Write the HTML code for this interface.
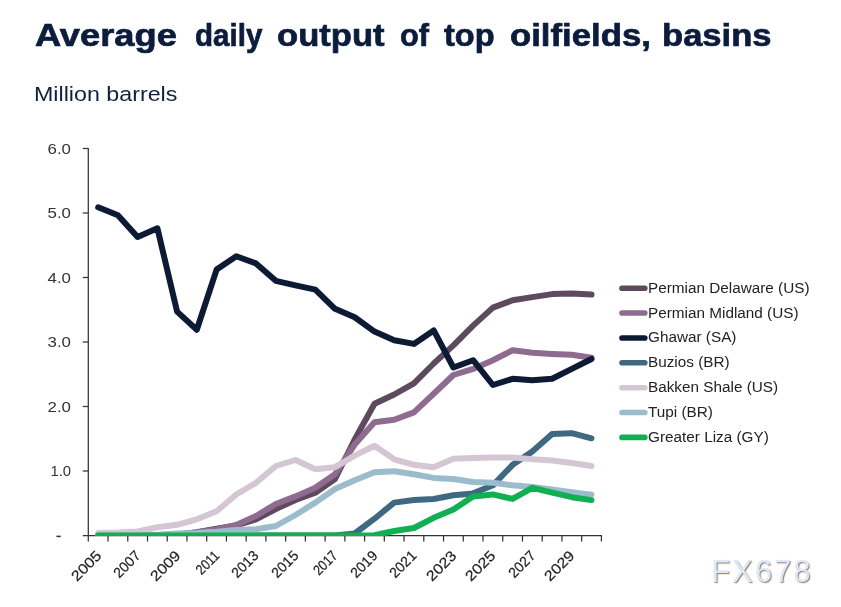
<!DOCTYPE html>
<html><head><meta charset="utf-8"><title>Average daily output of top oilfields, basins</title>
<style>
html,body{margin:0;padding:0;background:#fff;}
body{width:841px;height:607px;position:relative;overflow:hidden;font-family:"Liberation Sans",sans-serif;}
.t{position:absolute;white-space:nowrap;line-height:1;}
.tw{top:19.7px;font-size:31.5px;font-weight:bold;color:#0b1c3d;transform-origin:0 0;-webkit-text-stroke:0.7px #0b1c3d;}
#sub{left:33.5px;top:83.5px;font-size:20.5px;color:#12213f;transform-origin:0 0;transform:scaleX(1.134);}
.yl{font-size:14.4px;color:#333;text-align:right;width:40px;left:31.1px;transform-origin:100% 50%;transform:scaleX(1.17);}
.xl{font-size:14.4px;color:#222;-webkit-text-stroke:0.2px #222;transform-origin:100% 50%;transform:rotate(-45deg) scaleX(1.12);}
.lg{font-size:14px;color:#222;left:647.9px;transform-origin:0 0;transform:scaleX(1.093);}
#wm{left:711.3px;top:555.8px;font-size:30.6px;color:#dbe9fa;letter-spacing:2.3px;text-shadow:1px 1px 1.2px rgba(140,112,88,.95);}
#wrap{position:absolute;left:0;top:0;width:841px;height:607px;will-change:transform;}
</style></head><body><div id="wrap">

<svg width="841" height="607" viewBox="0 0 841 607" style="position:absolute;left:0;top:0">
<defs><clipPath id="plot"><rect x="80" y="100" width="560" height="436"/></clipPath></defs>
<g stroke="#333333" stroke-width="1.25" fill="none">
<path d="M88.3 147.9V541.5"/>
<path d="M82.8 535.5H602.01"/>
<path d="M82.8 148.50H88.3"/>
<path d="M82.8 213.00H88.3"/>
<path d="M82.8 277.50H88.3"/>
<path d="M82.8 342.00H88.3"/>
<path d="M82.8 406.50H88.3"/>
<path d="M82.8 471.00H88.3"/>
<path d="M108.03 535.5V541.5"/>
<path d="M127.77 535.5V541.5"/>
<path d="M147.50 535.5V541.5"/>
<path d="M167.24 535.5V541.5"/>
<path d="M186.97 535.5V541.5"/>
<path d="M206.71 535.5V541.5"/>
<path d="M226.44 535.5V541.5"/>
<path d="M246.18 535.5V541.5"/>
<path d="M265.92 535.5V541.5"/>
<path d="M285.65 535.5V541.5"/>
<path d="M305.38 535.5V541.5"/>
<path d="M325.12 535.5V541.5"/>
<path d="M344.86 535.5V541.5"/>
<path d="M364.59 535.5V541.5"/>
<path d="M384.32 535.5V541.5"/>
<path d="M404.06 535.5V541.5"/>
<path d="M423.80 535.5V541.5"/>
<path d="M443.53 535.5V541.5"/>
<path d="M463.26 535.5V541.5"/>
<path d="M483.00 535.5V541.5"/>
<path d="M502.74 535.5V541.5"/>
<path d="M522.47 535.5V541.5"/>
<path d="M542.20 535.5V541.5"/>
<path d="M561.94 535.5V541.5"/>
<path d="M581.67 535.5V541.5"/>
<path d="M601.41 535.5V541.5"/>
</g>
<path d="M56.4 536.4H60.8" stroke="#333" stroke-width="1.5"/>
<g clip-path="url(#plot)" fill="none" stroke-linecap="round" stroke-linejoin="round">
<polyline points="98.2,535.3 117.9,535.3 137.6,535.2 157.4,535.0 177.1,534.4 196.8,532.2 216.6,528.6 236.3,525.4 256.0,519.3 275.8,509.0 295.5,500.0 315.3,492.7 335.0,479.0 354.7,439.5 374.5,403.7 394.2,394.5 413.9,383.3 433.7,363.5 453.4,345.4 473.1,325.6 492.9,307.6 512.6,300.2 532.3,297.1 552.1,294.1 571.8,293.5 591.5,294.5" stroke="#5e4a5e" stroke-width="6.0"/>
<polyline points="98.2,535.3 117.9,535.3 137.6,535.2 157.4,535.0 177.1,534.5 196.8,532.5 216.6,529.5 236.3,525.0 256.0,516.0 275.8,504.0 295.5,496.4 315.3,487.8 335.0,474.2 354.7,444.5 374.5,422.2 394.2,419.8 413.9,412.4 433.7,393.8 453.4,375.0 473.1,368.9 492.9,360.2 512.6,350.3 532.3,352.8 552.1,354.0 571.8,354.8 591.5,357.8" stroke="#8f6b8f" stroke-width="6.0"/>
<polyline points="98.2,207.3 117.9,215.2 137.6,237.0 157.4,228.3 177.1,311.6 196.8,329.7 216.6,269.6 236.3,256.3 256.0,263.4 275.8,280.8 295.5,285.4 315.3,289.6 335.0,308.8 354.7,317.2 374.5,331.6 394.2,340.2 413.9,343.9 433.7,330.4 453.4,367.5 473.1,360.2 492.9,385.0 512.6,378.8 532.3,380.2 552.1,378.8 571.8,368.9 591.5,359.0" stroke="#0d1a33" stroke-width="6.0"/>
<polyline points="98.2,535.5 117.9,535.5 137.6,535.5 157.4,535.5 177.1,535.5 196.8,535.5 216.6,535.5 236.3,535.5 256.0,535.5 275.8,535.5 295.5,535.5 315.3,535.5 335.0,535.5 354.7,533.5 374.5,518.7 394.2,502.6 413.9,500.0 433.7,499.0 453.4,495.2 473.1,493.4 492.9,485.3 512.6,464.8 532.3,451.4 552.1,433.9 571.8,433.2 591.5,438.3" stroke="#3e6981" stroke-width="6.0"/>
<polyline points="98.2,532.9 117.9,532.6 137.6,531.5 157.4,527.3 177.1,524.8 196.8,519.3 216.6,511.2 236.3,494.5 256.0,482.8 275.8,466.0 295.5,460.0 315.3,469.2 335.0,467.2 354.7,455.6 374.5,445.7 394.2,459.3 413.9,464.8 433.7,467.2 453.4,458.8 473.1,458.0 492.9,457.6 512.6,457.6 532.3,459.3 552.1,460.6 571.8,463.0 591.5,466.0" stroke="#d5c6d4" stroke-width="6.0"/>
<polyline points="98.2,535.3 117.9,535.3 137.6,535.2 157.4,535.0 177.1,533.5 196.8,533.0 216.6,531.8 236.3,530.1 256.0,529.2 275.8,526.0 295.5,515.0 315.3,502.6 335.0,489.0 354.7,480.3 374.5,472.2 394.2,471.2 413.9,474.2 433.7,477.9 453.4,479.0 473.1,482.0 492.9,482.8 512.6,485.3 532.3,487.0 552.1,489.5 571.8,492.2 591.5,494.7" stroke="#9bbccc" stroke-width="6.0"/>
<polyline points="98.2,535.5 117.9,535.5 137.6,535.5 157.4,535.5 177.1,535.5 196.8,535.5 216.6,535.5 236.3,535.5 256.0,535.5 275.8,535.5 295.5,535.5 315.3,535.5 335.0,535.5 354.7,535.5 374.5,535.2 394.2,531.0 413.9,528.0 433.7,517.8 453.4,509.5 473.1,496.4 492.9,494.4 512.6,498.9 532.3,487.8 552.1,492.7 571.8,497.2 591.5,500.1" stroke="#10b052" stroke-width="6.0"/>
</g>
<path d="M622 288.20H644.8" stroke="#5e4a5e" stroke-width="5.6" stroke-linecap="round"/>
<path d="M622 313.07H644.8" stroke="#8f6b8f" stroke-width="5.6" stroke-linecap="round"/>
<path d="M622 337.94H644.8" stroke="#0d1a33" stroke-width="5.6" stroke-linecap="round"/>
<path d="M622 362.81H644.8" stroke="#3e6981" stroke-width="5.6" stroke-linecap="round"/>
<path d="M622 387.68H644.8" stroke="#d5c6d4" stroke-width="5.6" stroke-linecap="round"/>
<path d="M622 412.55H644.8" stroke="#9bbccc" stroke-width="5.6" stroke-linecap="round"/>
<path d="M622 437.42H644.8" stroke="#10b052" stroke-width="5.6" stroke-linecap="round"/>
</svg>
<div id="title"><span class="t tw" style="left:34.9px;transform:scaleX(1.152)">Average</span><span class="t tw" style="left:195.46px;transform:scaleX(0.938)">daily</span><span class="t tw" style="left:277.2px;transform:scaleX(1.0979)">output</span><span class="t tw" style="left:399.82px;transform:scaleX(0.9759)">of</span><span class="t tw" style="left:444.1px;transform:scaleX(1.0333)">top</span><span class="t tw" style="left:509.9px;transform:scaleX(1.1024)">oilfields,</span><span class="t tw" style="left:661.6px;transform:scaleX(1.0979)">basins</span></div>
<div class="t" id="sub">Million barrels</div>
<div class="t yl" style="top:141.8px">6.0</div>
<div class="t yl" style="top:206.3px">5.0</div>
<div class="t yl" style="top:270.8px">4.0</div>
<div class="t yl" style="top:335.3px">3.0</div>
<div class="t yl" style="top:399.8px">2.0</div>
<div class="t yl" style="top:464.3px;transform:scaleX(1.03)">1.0</div>
<div class="t xl" style="right:742.3px;top:545.5px">2005</div>
<div class="t xl" style="right:702.9px;top:545.5px;transform:rotate(-45deg) scaleX(0.975)">2007</div>
<div class="t xl" style="right:663.4px;top:545.5px">2009</div>
<div class="t xl" style="right:623.9px;top:545.5px;transform:rotate(-45deg) scaleX(0.86)">2011</div>
<div class="t xl" style="right:584.5px;top:545.5px;transform:rotate(-45deg) scaleX(0.975)">2013</div>
<div class="t xl" style="right:545.0px;top:545.5px;transform:rotate(-45deg) scaleX(0.975)">2015</div>
<div class="t xl" style="right:505.5px;top:545.5px;transform:rotate(-45deg) scaleX(0.86)">2017</div>
<div class="t xl" style="right:466.0px;top:545.5px;transform:rotate(-45deg) scaleX(0.975)">2019</div>
<div class="t xl" style="right:426.6px;top:545.5px;transform:rotate(-45deg) scaleX(0.975)">2021</div>
<div class="t xl" style="right:387.1px;top:545.5px">2023</div>
<div class="t xl" style="right:347.6px;top:545.5px">2025</div>
<div class="t xl" style="right:308.2px;top:545.5px;transform:rotate(-45deg) scaleX(0.975)">2027</div>
<div class="t xl" style="right:268.7px;top:545.5px">2029</div>
<div class="t lg" style="top:280.6px">Permian Delaware (US)</div>
<div class="t lg" style="top:305.5px">Permian Midland (US)</div>
<div class="t lg" style="top:330.3px">Ghawar (SA)</div>
<div class="t lg" style="top:355.2px">Buzios (BR)</div>
<div class="t lg" style="top:380.1px">Bakken Shale (US)</div>
<div class="t lg" style="top:404.9px">Tupi (BR)</div>
<div class="t lg" style="top:429.8px">Greater Liza (GY)</div>
<div class="t" id="wm">FX678</div>
</div></body></html>
